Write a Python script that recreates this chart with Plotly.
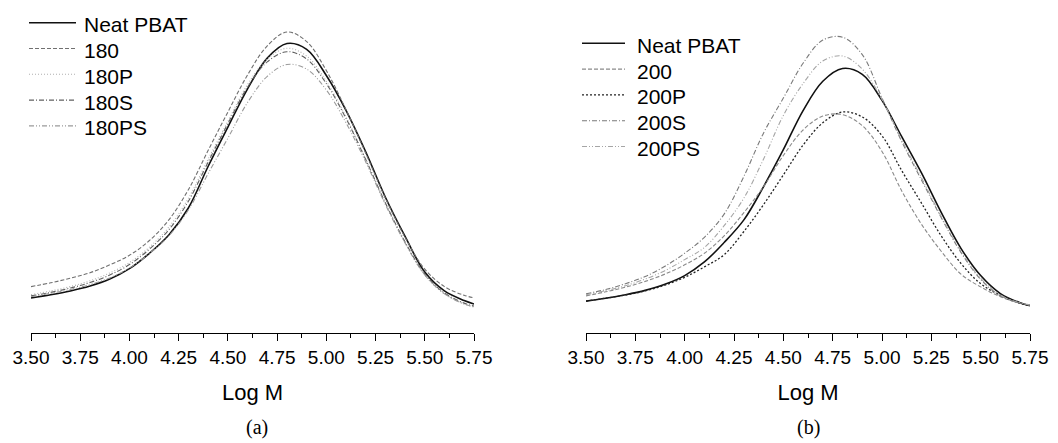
import plotly.graph_objects as go
from plotly.subplots import make_subplots

# Log M sample points (shared by every curve)
log_m = [3.50, 3.60, 3.70, 3.80, 3.90, 4.00, 4.10, 4.20, 4.30, 4.40, 4.50, 4.60,
         4.70, 4.80, 4.90, 5.00, 5.10, 5.20, 5.30, 5.40, 5.50, 5.60, 5.70, 5.75]

# Panel (a) (arbitrary units, relative to the axis line)
a_neat = [0.121, 0.132, 0.145, 0.162, 0.186, 0.222, 0.274, 0.338, 0.432, 0.575, 0.710, 0.842,
          0.948, 0.998, 0.978, 0.888, 0.768, 0.625, 0.468, 0.333, 0.210, 0.145, 0.112, 0.100]
a_180 = [0.160, 0.173, 0.189, 0.208, 0.235, 0.268, 0.318, 0.390, 0.495, 0.630, 0.762, 0.890,
         0.990, 1.038, 1.005, 0.905, 0.770, 0.620, 0.465, 0.330, 0.220, 0.160, 0.130, 0.121]
a_180p = [0.132, 0.145, 0.160, 0.180, 0.207, 0.243, 0.295, 0.365, 0.465, 0.600, 0.730, 0.857,
          0.945, 0.982, 0.955, 0.868, 0.745, 0.600, 0.448, 0.312, 0.200, 0.135, 0.100, 0.090]
a_180s = [0.128, 0.140, 0.155, 0.174, 0.200, 0.236, 0.288, 0.356, 0.455, 0.590, 0.722, 0.848,
          0.935, 0.970, 0.945, 0.860, 0.740, 0.598, 0.448, 0.314, 0.203, 0.138, 0.103, 0.093]
a_180ps = [0.125, 0.137, 0.150, 0.167, 0.190, 0.224, 0.273, 0.335, 0.425, 0.550, 0.672, 0.795,
           0.885, 0.926, 0.910, 0.838, 0.725, 0.590, 0.443, 0.310, 0.200, 0.135, 0.100, 0.090]

# Panel (b)
b_neat = [0.110, 0.120, 0.132, 0.147, 0.168, 0.198, 0.245, 0.312, 0.390, 0.505, 0.632, 0.767,
          0.868, 0.912, 0.892, 0.802, 0.677, 0.552, 0.416, 0.292, 0.198, 0.136, 0.104, 0.094]
b_200 = [0.128, 0.142, 0.158, 0.178, 0.203, 0.235, 0.275, 0.335, 0.415, 0.505, 0.612, 0.700,
         0.748, 0.753, 0.715, 0.626, 0.490, 0.375, 0.282, 0.203, 0.159, 0.125, 0.103, 0.097]
b_200p = [0.110, 0.120, 0.131, 0.145, 0.165, 0.192, 0.228, 0.270, 0.350, 0.443, 0.545, 0.648,
          0.725, 0.762, 0.745, 0.680, 0.560, 0.448, 0.335, 0.240, 0.170, 0.130, 0.102, 0.095]
b_200s = [0.135, 0.150, 0.170, 0.195, 0.230, 0.275, 0.330, 0.410, 0.540, 0.690, 0.810, 0.930,
          1.010, 1.020, 0.960, 0.810, 0.660, 0.528, 0.398, 0.278, 0.185, 0.128, 0.103, 0.097]
b_200ps = [0.132, 0.146, 0.163, 0.186, 0.215, 0.253, 0.295, 0.370, 0.465, 0.600, 0.750, 0.860,
           0.938, 0.955, 0.910, 0.805, 0.665, 0.535, 0.402, 0.282, 0.188, 0.131, 0.104, 0.097]

x_ticks = [3.50, 3.75, 4.00, 4.25, 4.50, 4.75, 5.00, 5.25, 5.50, 5.75]

names_a = ["Neat PBAT", "180", "180P", "180S", "180PS"]
names_b = ["Neat PBAT", "200", "200P", "200S", "200PS"]
series_a = [a_neat, a_180, a_180p, a_180s, a_180ps]
series_b = [b_neat, b_200, b_200p, b_200s, b_200ps]

styles_a = [dict(color="#111111", width=1.6, dash="solid"),
            dict(color="#707070", width=1.1, dash="4px,2px"),
            dict(color="#b0b0b0", width=1.1, dash="1px,2px"),
            dict(color="#606060", width=1.1, dash="5px,2px,1px,2px"),
            dict(color="#9a9a9a", width=1.1, dash="5px,2px,1px,2px,1px,2px")]
styles_b = [dict(color="#111111", width=1.6, dash="solid"),
            dict(color="#8a8a8a", width=1.1, dash="4px,2px"),
            dict(color="#222222", width=1.3, dash="2px,2px"),
            dict(color="#7a7a7a", width=1.1, dash="5px,2px,1px,2px"),
            dict(color="#a5a5a5", width=1.1, dash="5px,2px,1px,2px,1px,2px")]

# Figure geometry (page body adds an 8 px margin, so the figure is 8 px smaller)
W, H = 1050, 435
PLOT_H = 325  # plot area height in px (axis line position)

fig = make_subplots(rows=1, cols=2, horizontal_spacing=0.1)

for name, ys, st in zip(names_a, series_a, styles_a):
    fig.add_trace(go.Scatter(x=log_m, y=ys, name=name, mode="lines", showlegend=False,
                             line=dict(shape="spline", smoothing=1.0, **st)), row=1, col=1)
for name, ys, st in zip(names_b, series_b, styles_b):
    fig.add_trace(go.Scatter(x=log_m, y=ys, name=name, mode="lines", showlegend=False,
                             line=dict(shape="spline", smoothing=1.0, **st)), row=1, col=2)

sans = "Liberation Sans, Arial, sans-serif"
serif = "Liberation Serif, Times New Roman, serif"

xaxis_common = dict(
    range=[3.5, 5.75], tickvals=x_ticks, tickformat=".2f",
    showline=True, linecolor="black", linewidth=1,
    ticks="outside", ticklen=7, tickwidth=1, tickcolor="black",
    minor=dict(ticks="outside", ticklen=4, dtick=0.125, tick0=3.5, tickcolor="black"),
    showgrid=False, zeroline=False, automargin=False,
    tickfont=dict(family=sans, size=19, color="black"),
    title=dict(text="Log M", standoff=17, font=dict(family=sans, size=22, color="black")),
)
fig.update_xaxes(**xaxis_common)
fig.update_xaxes(domain=[23 / W, 466 / W], row=1, col=1)
fig.update_xaxes(domain=[578 / W, 1022 / W], row=1, col=2)
fig.update_yaxes(range=[0, PLOT_H / 290], visible=False, showgrid=False, zeroline=False)

# Custom legends (sample line + label) drawn in paper coordinates
shapes, annotations = [], []

def add_legend(names, styles, x0, x1, xt, y_first, step):
    for i, (name, st) in enumerate(zip(names, styles)):
        yp = y_first + i * step
        yy = (PLOT_H - yp) / PLOT_H
        shapes.append(dict(type="line", xref="paper", yref="paper", x0=x0 / W, x1=x1 / W,
                           y0=yy, y1=yy, line=dict(color=st["color"], width=st["width"],
                                                   dash=st["dash"])))
        annotations.append(dict(text=name, xref="paper", yref="paper", x=xt / W,
                                y=(PLOT_H - yp - 2) / PLOT_H, xanchor="left", yanchor="middle",
                                showarrow=False, font=dict(family=sans, size=21, color="black")))

add_legend(names_a, styles_a, 21, 68, 74, 14.7, 25.8)
add_legend(names_b, styles_b, 574, 617, 627, 35.3, 25.8)

for lab, xc in (("(a)", 249), ("(b)", 800)):
    annotations.append(dict(text=lab, xref="paper", yref="paper", x=xc / W,
                            y=(PLOT_H - 433) / PLOT_H, xanchor="center", yanchor="bottom",
                            showarrow=False, font=dict(family=serif, size=20, color="black")))

fig.update_layout(
    width=W, height=H,
    margin=dict(l=0, r=0, t=0, b=H - PLOT_H, autoexpand=False),
    paper_bgcolor="white", plot_bgcolor="white",
    showlegend=False,
    shapes=shapes, annotations=annotations,
)

fig.write_html("out.html")
